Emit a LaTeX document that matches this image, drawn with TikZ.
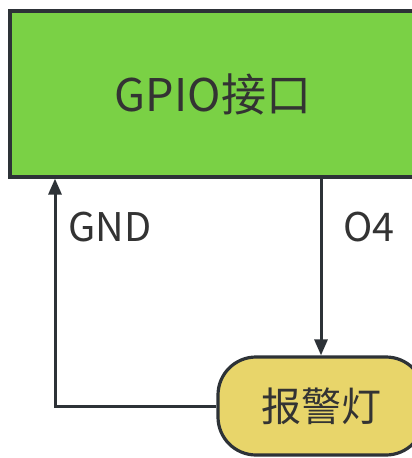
\documentclass[tikz,border=0pt]{standalone}
\usepackage{fontspec}
\setmainfont{Noto Sans}
\newfontfamily\cjk{Noto Sans CJK SC}
\usetikzlibrary{arrows.meta}
\definecolor{gpiogreen}{RGB}{122,209,69}
\definecolor{lampyellow}{RGB}{232,213,106}
\definecolor{ink}{RGB}{45,50,55}
\definecolor{txt}{RGB}{51,51,51}
\tikzset{
  box/.style={draw=ink, line width=3.2pt, text=txt, inner sep=0pt},
  conn/.style={draw=ink, line width=3pt, -{Triangle[length=16pt,width=13pt]}},
  lbl/.style={text=txt, inner sep=0pt, font=\cjk\fontsize{39.5}{39.5}\selectfont}
}
\begin{document}
\begin{tikzpicture}[x=1pt,y=-1pt]
\useasboundingbox (0,0) rectangle (412,458);
\node[box, fill=gpiogreen, minimum width=406pt, minimum height=166pt,
      font=\cjk\fontsize{45}{45}\selectfont] (gpio) at (213,94) {GPIO接口};
\node[box, fill=lampyellow, rounded corners=38pt, minimum width=206pt, minimum height=98pt,
      font=\cjk\fontsize{40}{40}\selectfont] (lamp) at (321,406) {报警灯};
\coordinate (gndx) at (55,0);
\draw[conn] (lamp.north |- gpio.south) -- (lamp.north);
\draw[conn] (lamp.west) -| (gndx |- gpio.south);
\node[lbl] (gnd) at (110,227) {GND};
\node[lbl] (o4) at (369,227) {O4};
\end{tikzpicture}
\end{document}
